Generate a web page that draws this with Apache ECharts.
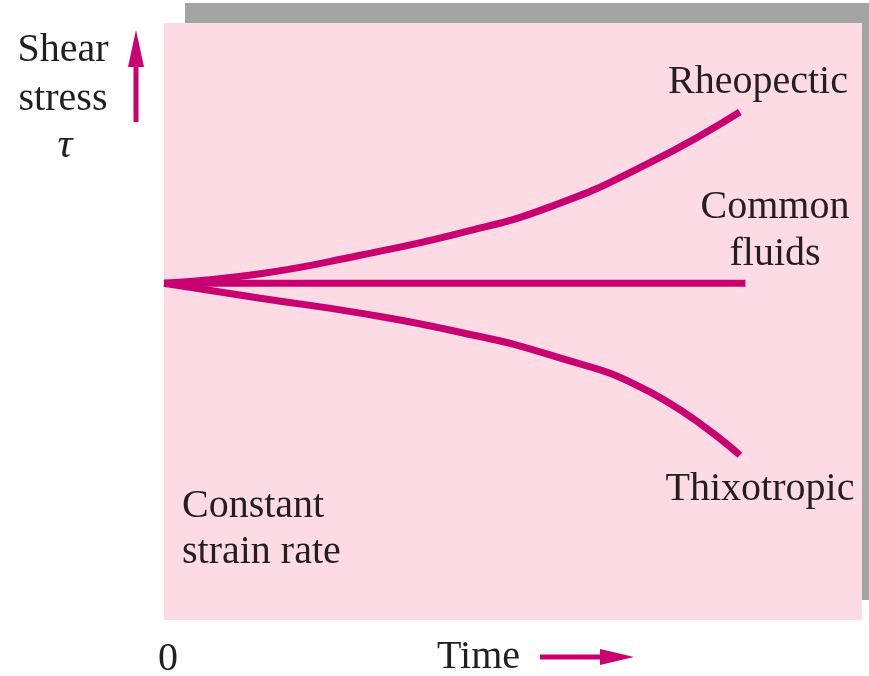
<!DOCTYPE html>
<html>
<head>
<meta charset="utf-8">
<script src="https://cdn.jsdelivr.net/npm/echarts@6/dist/echarts.min.js"></script>
<style>
  html, body { margin: 0; padding: 0; background: #ffffff; }
  #chart { width: 869px; height: 676px; }
</style>
</head>
<body>
<div id="chart"></div>
<script>
// time points (arbitrary units) and shear stress
const times = [0, 1.38, 2.81, 4.24, 5.53, 6.96, 8.25];
const rheopectic = [5.64, 5.80, 6.11, 6.48, 6.92, 7.66, 8.51];
const thixotropic = [5.64, 5.39, 5.14, 4.82, 4.44, 3.82, 2.76];
const commonTimes = [0, 8.33];
const commonFluids = [5.64, 5.64];

const lineColor = '#c9006f';
const font = '40px "Liberation Serif", "Times New Roman", serif';
const textColor = '#231f20';

function pairs(xs, ys) {
    return xs.map((x, i) => [x, ys[i]]);
}

function label(text, x, y, align) {
    return {
        type: 'text',
        x: x,
        y: y,
        style: {
            text: text,
            font: font,
            fill: textColor,
            align: align || 'center',
            verticalAlign: 'middle'
        }
    };
}

const chart = echarts.init(document.getElementById('chart'));

const option = {
    animation: false,
    grid: {
        show: true,
        left: 164,
        top: 23,
        width: 698,
        height: 597,
        backgroundColor: '#fddbe5',
        borderWidth: 0
    },
    xAxis: { type: 'value', min: 0, max: 10, show: false },
    yAxis: { type: 'value', min: 0, max: 10, show: false },
    series: [
        {
            name: 'Rheopectic',
            type: 'line',
            smooth: 0.5,
            symbol: 'none',
            lineStyle: { color: lineColor, width: 7 },
            data: pairs(times, rheopectic)
        },
        {
            name: 'Common fluids',
            type: 'line',
            symbol: 'none',
            lineStyle: { color: lineColor, width: 7 },
            data: pairs(commonTimes, commonFluids)
        },
        {
            name: 'Thixotropic',
            type: 'line',
            smooth: 0.5,
            symbol: 'none',
            lineStyle: { color: lineColor, width: 7 },
            data: pairs(times, thixotropic)
        }
    ],
    graphic: [
        // gray shadow behind the panel
        {
            type: 'rect',
            z: -10,
            shape: { x: 185, y: 3, width: 684, height: 597 },
            style: { fill: '#a4a4a4' }
        },
        label('Shear', 63, 50),
        label('stress', 63, 99),
        {
            type: 'text',
            x: 65,
            y: 146,
            style: {
                text: 'τ',
                font: 'italic 42px "Liberation Serif", serif',
                fill: textColor,
                align: 'center',
                verticalAlign: 'middle'
            }
        },
        // up arrow
        {
            type: 'line',
            shape: { x1: 136, y1: 122, x2: 136, y2: 60 },
            style: { stroke: lineColor, lineWidth: 5 }
        },
        {
            type: 'polygon',
            shape: { points: [[136, 30], [128, 67], [144, 67]] },
            style: { fill: lineColor }
        },
        label('Rheopectic', 758, 82),
        label('Common', 775, 207),
        label('fluids', 775, 254),
        label('Thixotropic', 760, 489),
        label('Constant', 182, 506, 'left'),
        label('strain rate', 182, 552, 'left'),
        label('0', 168, 659),
        label('Time', 437, 657, 'left'),
        // right arrow
        {
            type: 'line',
            shape: { x1: 540, y1: 657, x2: 606, y2: 657 },
            style: { stroke: lineColor, lineWidth: 5 }
        },
        {
            type: 'polygon',
            shape: { points: [[634, 657], [600, 649], [600, 665]] },
            style: { fill: lineColor }
        }
    ]
};

chart.setOption(option);
</script>
</body>
</html>
